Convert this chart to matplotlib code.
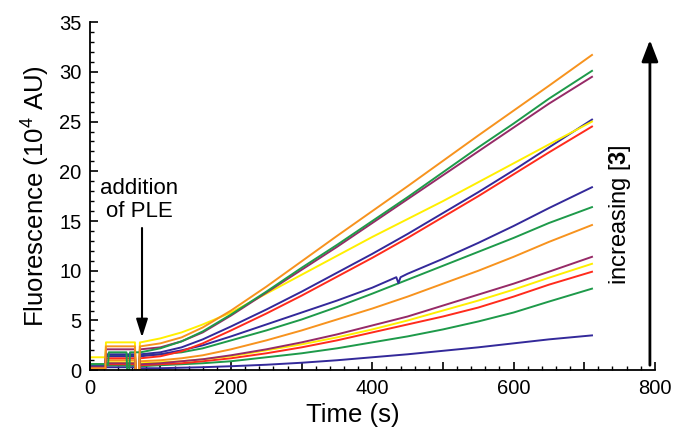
import matplotlib
matplotlib.use("Agg")
import matplotlib.pyplot as plt
from matplotlib.ticker import MultipleLocator, FuncFormatter

plt.rcParams['font.family'] = ['Liberation Sans', 'DejaVu Sans']
plt.rcParams['mathtext.fontset'] = 'custom'
plt.rcParams['mathtext.rm'] = 'Liberation Sans'
plt.rcParams['mathtext.bf'] = 'Liberation Sans:bold'

# ---- data (time in s, fluorescence in 10^4 AU) ----
t_post = [72, 100, 130, 160, 200, 250, 300, 350, 400, 450, 500, 550, 600, 650, 711]

orange1 = [2.4, 2.7, 3.3, 4.3, 6.0, 8.4, 10.95, 13.5, 16.0, 18.5, 21.05, 23.6, 26.1, 28.6, 31.7]
green1  = [1.8, 2.2, 2.9, 3.9, 5.6, 7.9, 10.3, 12.6, 15.0, 17.4, 19.9, 22.4, 24.8, 27.3, 30.1]
maroon1 = [2.1, 2.3, 2.9, 3.8, 5.5, 7.8, 10.1, 12.4, 14.8, 17.2, 19.6, 22.0, 24.4, 26.8, 29.5]
yellow1 = [2.8, 3.2, 3.8, 4.6, 5.8, 7.7, 9.6, 11.5, 13.4, 15.2, 17.0, 18.9, 20.8, 22.7, 25.0]
blue1   = [1.6, 1.8, 2.3, 3.1, 4.4, 6.1, 7.9, 9.8, 11.7, 13.7, 15.8, 17.9, 20.1, 22.4, 25.2]
red1    = [1.2, 1.4, 1.9, 2.7, 4.0, 5.7, 7.5, 9.4, 11.3, 13.3, 15.4, 17.5, 19.7, 21.9, 24.5]
blue2   = [1.4, 1.6, 2.0, 2.5, 3.4, 4.6, 5.8, 7.0, 8.3, 9.7, 11.2, 12.8, 14.5, 16.3, 18.4]
green2  = [1.5, 1.6, 1.8, 2.2, 3.0, 4.0, 5.1, 6.35, 7.7, 9.1, 10.5, 11.9, 13.3, 14.8, 16.4]
orange2 = [0.9, 1.0, 1.2, 1.5, 2.1, 3.0, 4.0, 5.1, 6.2, 7.4, 8.7, 10.0, 11.4, 12.9, 14.6]
maroon2 = [0.6, 0.7, 0.9, 1.1, 1.5, 2.1, 2.8, 3.6, 4.5, 5.4, 6.5, 7.6, 8.7, 9.9, 11.4]
yellow2 = [0.7, 0.8, 0.9, 1.1, 1.4, 2.0, 2.6, 3.3, 4.1, 5.0, 6.0, 7.0, 8.1, 9.3, 10.7]
red2    = [0.5, 0.6, 0.7, 0.9, 1.2, 1.7, 2.3, 3.0, 3.8, 4.6, 5.4, 6.3, 7.4, 8.6, 9.9]
green3  = [0.4, 0.5, 0.6, 0.7, 0.9, 1.3, 1.7, 2.2, 2.8, 3.4, 4.1, 4.9, 5.8, 6.9, 8.2]
blue3   = [0.2, 0.2, 0.25, 0.3, 0.4, 0.55, 0.75, 1.0, 1.3, 1.6, 1.95, 2.3, 2.7, 3.1, 3.5]

# glitch on blue2 near t = 438 s
blue2_glitch_t = [434, 437, 440]
blue2_glitch_v = [9.35, 8.75, 9.35]

# pre-addition traces (before PLE addition)
pre_t_std = [0, 22, 23, 64, 65, 70, 71]
pre_vals = {
    'blue3':   [0.2, 0.2, 0.3, 0.3, 0.0, 0.0, 0.2],
    'green3':  [0.3, 0.3, 0.5, 0.5, 0.0, 0.0, 0.4],
    'red2':    [0.2, 0.2, 0.6, 0.6, 0.0, 0.0, 0.5],
    'yellow2': [0.6, 0.6, 0.8, 0.8, 0.0, 0.0, 0.7],
    'maroon2': [0.3, 0.3, 0.7, 0.7, 0.0, 0.0, 0.6],
    'orange2': [0.2, 0.2, 1.0, 1.0, 0.0, 0.0, 0.9],
    'green2':  [0.6, 0.6, 1.5, 1.5, 0.0, 0.0, 1.5],
    'blue2':   [0.4, 0.4, 1.4, 1.4, 0.0, 0.0, 1.4],
    'red1':    [0.2, 0.2, 1.2, 1.2, 0.0, 0.0, 1.2],
    'blue1':   [0.4, 0.4, 1.6, 1.6, 0.0, 0.0, 1.6],
    'yellow1': [1.3, 1.3, 2.8, 2.8, 0.0, 0.0, 2.8],
    'maroon1': [0.3, 0.3, 2.1, 2.1, 0.0, 0.0, 2.1],
    'green1':  [0.6, 0.6, 1.8, 1.8, 0.0, 0.0, 1.8],
    'orange1': [0.2, 0.2, 2.4, 2.4, 0.0, 0.0, 2.4],
}
# green1 has an extra dip to zero mid-way
green1_pre_t = [0, 26, 27, 52, 53, 56, 57, 70, 71]
green1_pre_v = [0.6, 0.6, 1.8, 1.8, 0.0, 0.0, 1.8, 1.8, 1.8]

C_OR = '#F7931E'
C_GR = '#1E9A4A'
C_MA = '#962A67'
C_BL = '#33299A'
C_YE = '#FFEF00'
C_RE = '#FF2B1C'

series = [
    ('blue3', blue3, C_BL), ('green3', green3, C_GR), ('red2', red2, C_RE),
    ('yellow2', yellow2, C_YE), ('maroon2', maroon2, C_MA), ('orange2', orange2, C_OR),
    ('green2', green2, C_GR), ('blue2', blue2, C_BL), ('red1', red1, C_RE),
    ('blue1', blue1, C_BL), ('yellow1', yellow1, C_YE), ('maroon1', maroon1, C_MA),
    ('green1', green1, C_GR), ('orange1', orange1, C_OR),
]

fig = plt.figure(figsize=(6.85, 4.34), dpi=100)
ax = fig.add_axes([0.131, 0.147, 0.825, 0.802])

for name, vals, col in series:
    if name == 'green1':
        tt = list(green1_pre_t) + t_post
        vv = list(green1_pre_v) + vals
    else:
        tt = list(pre_t_std) + t_post
        vv = list(pre_vals[name]) + vals
    if name == 'blue2':
        i = t_post.index(450) + len(pre_t_std)
        tt = tt[:i] + blue2_glitch_t + tt[i:]
        vv = vv[:i] + blue2_glitch_v + vv[i:]
    ax.plot(tt, vv, color=col, lw=1.4, solid_joinstyle='round')

ax.set_xlim(0, 800)
ax.set_ylim(0, 35)
for s in ['top', 'right']:
    ax.spines[s].set_visible(False)
for s in ['left', 'bottom']:
    ax.spines[s].set_linewidth(1.3)

ax.xaxis.set_major_locator(MultipleLocator(100))
ax.xaxis.set_minor_locator(MultipleLocator(20))
ax.xaxis.set_major_formatter(FuncFormatter(lambda v, p: f"{int(v)}" if int(v) % 200 == 0 else ""))
ax.yaxis.set_major_locator(MultipleLocator(5))
ax.yaxis.set_minor_locator(MultipleLocator(1))
ax.tick_params(which='major', direction='in', length=6, width=1.2, labelsize=14.5, pad=6)
ax.tick_params(which='minor', direction='in', length=3, width=1.0)

ax.set_xlabel('Time (s)', fontsize=18.5)
ax.xaxis.set_label_coords(0.465, -0.095)
ax.set_ylabel('Fluorescence (10$^4$ AU)', fontsize=18.5, labelpad=6)

ax.text(70, 17.1, 'addition\nof PLE', ha='center', va='center', fontsize=16, linespacing=1.1)
ax.annotate('', xy=(74, 3.3), xytext=(74, 14.3),
            arrowprops=dict(arrowstyle='-|>,head_length=1.1,head_width=0.35', color='black', lw=1.5,
                            shrinkA=0, shrinkB=0))
ax.annotate('', xy=(793, 33.2), xytext=(793, 0.5), annotation_clip=False,
            arrowprops=dict(arrowstyle='-|>,head_length=1.3,head_width=0.5', color='black', lw=2,
                            shrinkA=0, shrinkB=0))
ax.text(750, 15.6, r'increasing [$\mathbf{3}$]', rotation=90, ha='center', va='center', fontsize=17)

fig.savefig('out.png', dpi=100)
